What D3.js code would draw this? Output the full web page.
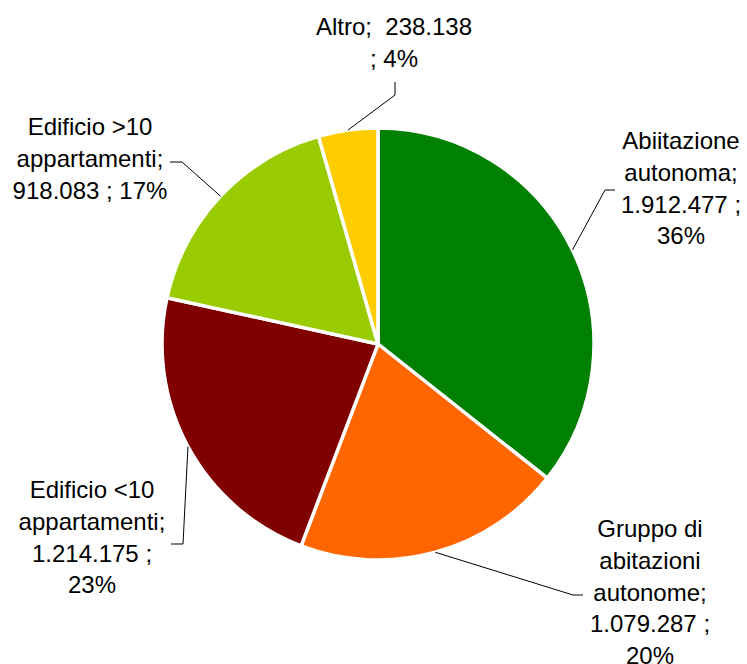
<!DOCTYPE html>
<html lang="it">
<head>
<meta charset="UTF-8" />
<title>Abitazioni per tipo di edificio</title>
<script src="https://d3js.org/d3.v7.min.js"></script>
<style>
  body { margin: 0; background: #fff; }
  .label { font-family: "Liberation Sans", Arial, sans-serif; font-size: 24px; fill: #000; white-space: pre; }
  .leader { fill: none; stroke: #000; stroke-width: 1; }
</style>
</head>
<body>
<svg width="747" height="664"></svg>
<script>
// data
const categories = ["Abiitazione autonoma", "Gruppo di abitazioni autonome", "Edificio <10 appartamenti", "Edificio >10 appartamenti", "Altro"];
const values = [1912477, 1079287, 1214175, 918083, 238138];
const colors = ["#008000", "#ff6600", "#800000", "#99cc00", "#ffcc00"];

// label text lines, as wrapped in the original
const labelLines = [
  ["Abiitazione", "autonoma;", "1.912.477 ;", "36%"],
  ["Gruppo di", "abitazioni", "autonome;", "1.079.287 ;", "20%"],
  ["Edificio <10", "appartamenti;", "1.214.175 ;", "23%"],
  ["Edificio >10", "appartamenti;", "918.083 ; 17%"],
  ["Altro;  238.138", "; 4%"]
];
// label block position (centre x, first baseline y) and leader elbow/end
const labelPos = [
  { x: 681, y: 149, elbow: [605, 190], end: [615, 190] },
  { x: 650, y: 537, elbow: [573, 595], end: [583, 595] },
  { x: 92, y: 498, elbow: [183, 544], end: [171, 544] },
  { x: 90, y: 135, elbow: [182, 162], end: [170, 162] },
  { x: 394, y: 35, elbow: [395, 95], end: [395, 82] }
];

const svg = d3.select("svg");
const cx = 378, cy = 344, r = 216;
const lineH = 31.8;

const pie = d3.pie().sort(null).value((d) => d);
const arcs = pie(values);
const arc = d3.arc().innerRadius(0).outerRadius(r);

const g = svg.append("g").attr("transform", `translate(${cx},${cy})`);

g.selectAll("path.slice")
  .data(arcs)
  .enter()
  .append("path")
  .attr("class", "slice")
  .attr("d", arc)
  .attr("fill", (d, i) => colors[i])
  .attr("stroke", "#fff")
  .attr("stroke-width", 3.5)
  .attr("stroke-linejoin", "round");

// leader lines from the middle of each slice's edge
arcs.forEach((d, i) => {
  const a = (d.startAngle + d.endAngle) / 2;
  const px = cx + r * Math.sin(a);
  const py = cy - r * Math.cos(a);
  const p = labelPos[i];
  svg.append("path")
    .attr("class", "leader")
    .attr("d", `M${px},${py}L${p.elbow[0]},${p.elbow[1]}L${p.end[0]},${p.end[1]}`);
});

labelLines.forEach((lines, i) => {
  const p = labelPos[i];
  const t = svg.append("text")
    .attr("class", "label")
    .attr("text-anchor", "middle")
    .attr("xml:space", "preserve");
  lines.forEach((s, j) => {
    t.append("tspan")
      .attr("x", p.x)
      .attr("y", p.y + j * lineH)
      .text(s);
  });
});
</script>
</body>
</html>
